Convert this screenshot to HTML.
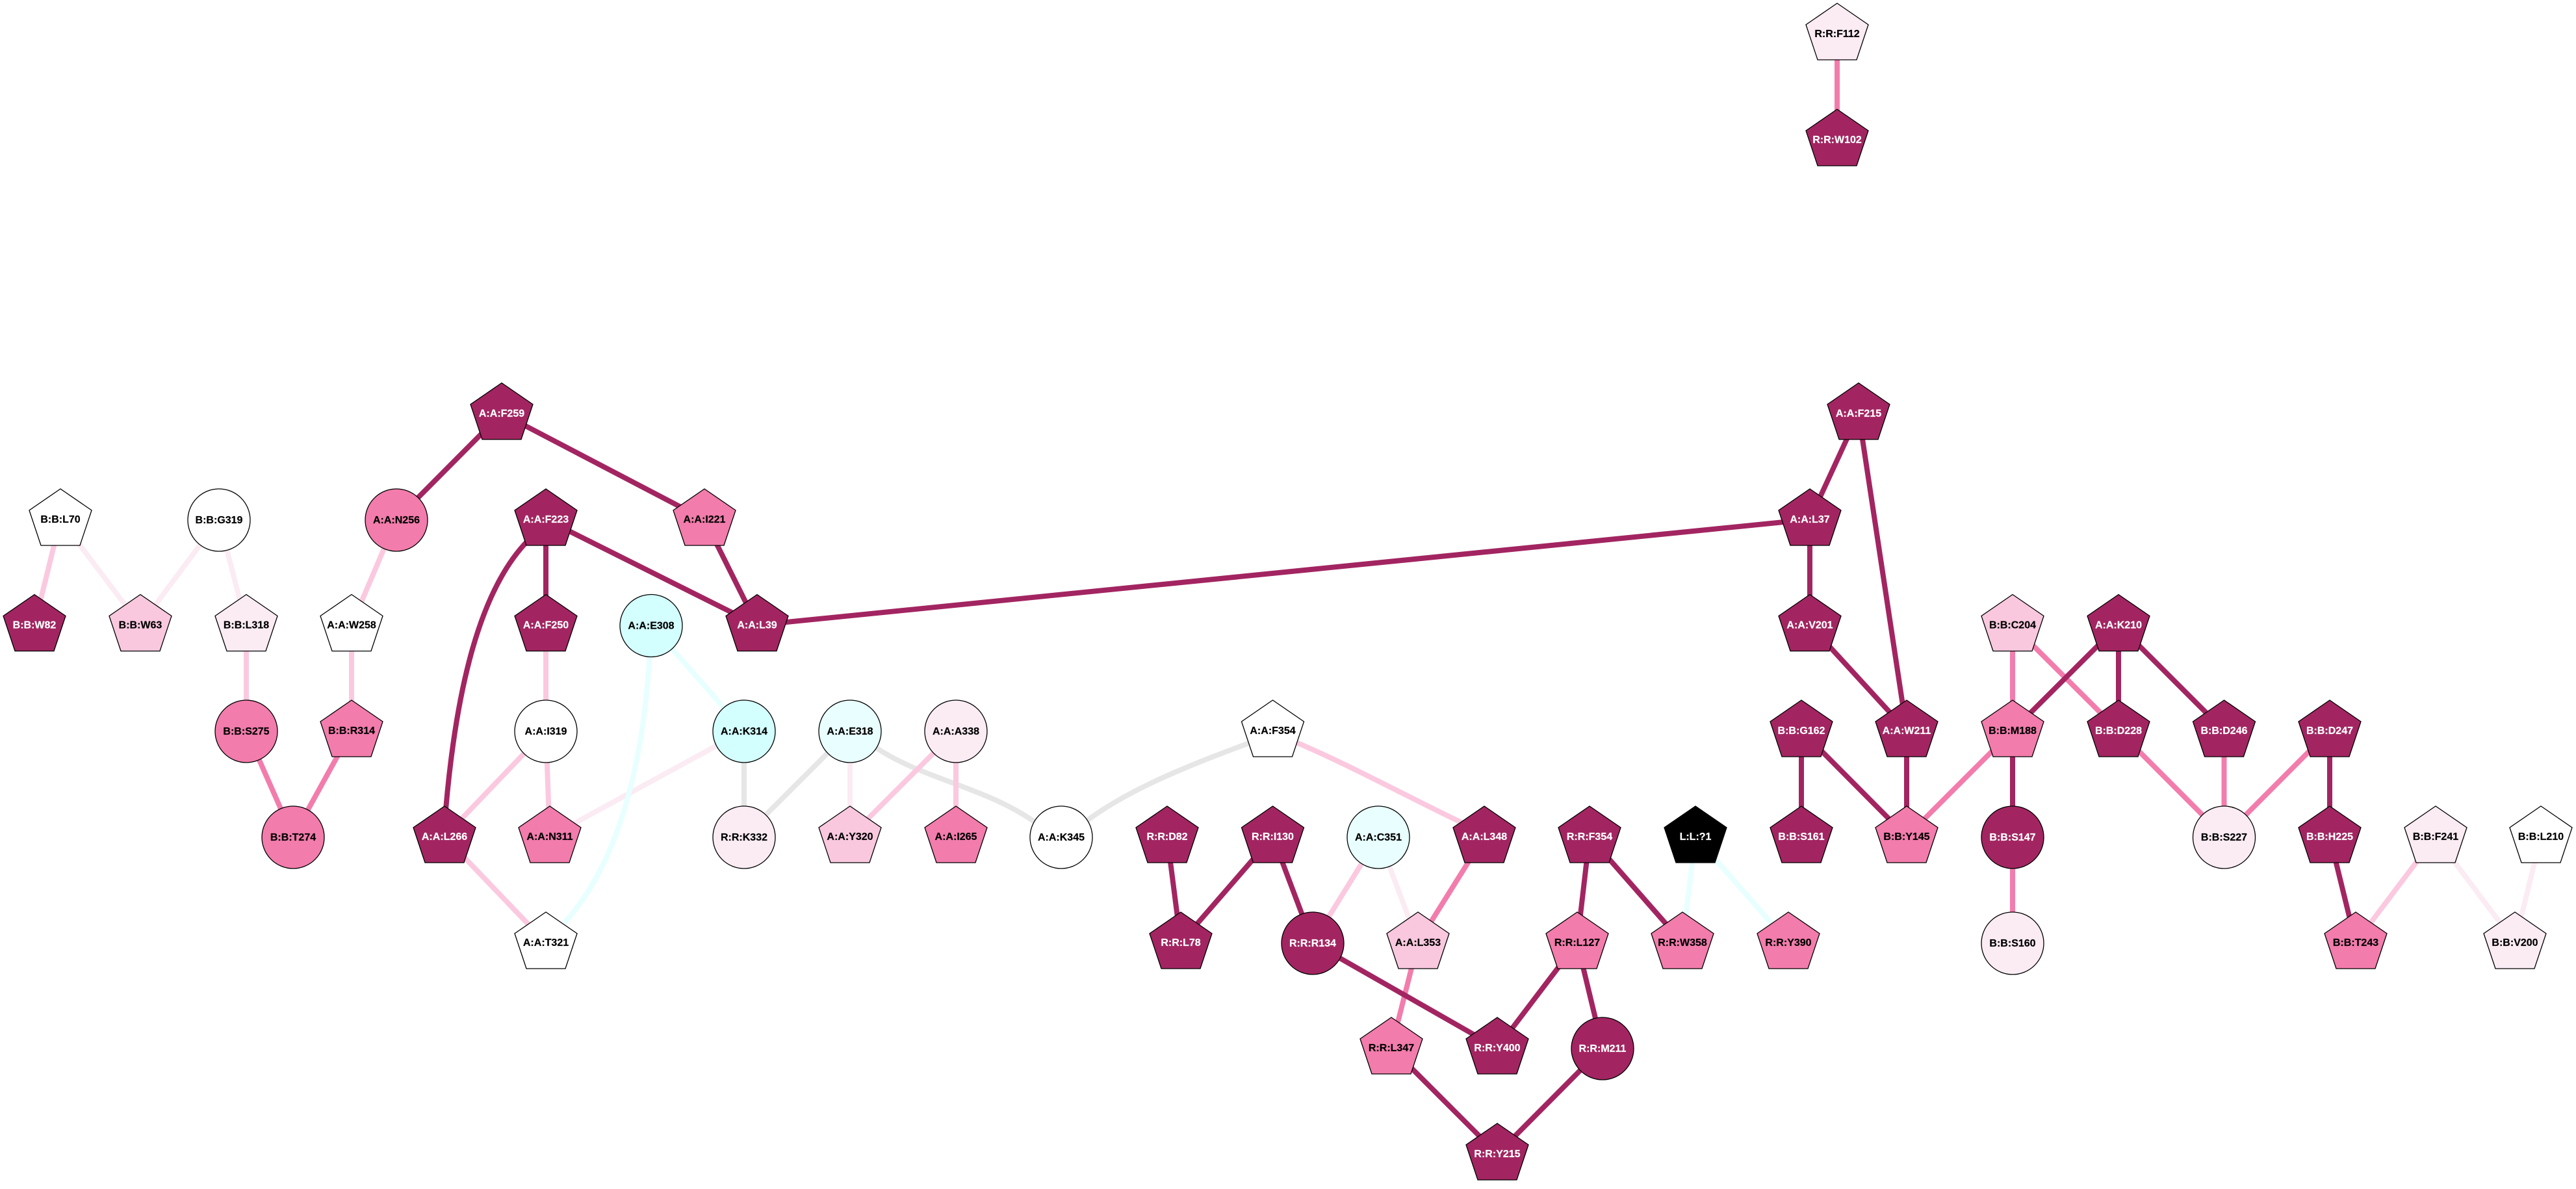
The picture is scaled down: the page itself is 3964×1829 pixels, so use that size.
<!DOCTYPE html>
<html lang="en">
<head>
<meta charset="utf-8">
<title>Residue network</title>
<style>
html,body{margin:0;padding:0;background:#fff;width:3964px;height:1829px;overflow:hidden}
svg{display:block}
.e{fill:none;stroke-width:8}
.dk{stroke:#a22561}.pk{stroke:#f27dac}.lp{stroke:#fbc9df}.pa{stroke:#fbebf3}.cy{stroke:#e8ffff}.gr{stroke:#e6e6e6}
.n{stroke:#000;stroke-width:1.3}
.d{fill:#a22561}.k{fill:#f27cac}.l{fill:#f9c8de}.p{fill:#fbecf4}.w{fill:#fff}.c{fill:#d4ffff}.v{fill:#e9ffff}.b{fill:#000}
text{font-family:"Liberation Sans",sans-serif;font-weight:bold;font-size:16px;text-anchor:middle;fill:#000;stroke:#000;stroke-width:.2}
text.t{fill:#fff;stroke:#fff}
</style>
</head>
<body>
<svg xmlns="http://www.w3.org/2000/svg" width="3964" height="1829" viewBox="0 0 3964 1829">
<rect width="3964" height="1829" fill="#fff"/>
<g>
<line class="e pa" x1="93" y1="799" x2="216" y2="961.5"/>
<line class="e pa" x1="337" y1="799" x2="216" y2="961.5"/>
<line class="e pa" x1="337" y1="799" x2="379" y2="961.5"/>
<line class="e pa" x1="1145" y1="1124" x2="846" y2="1287"/>
<line class="e pa" x1="1308" y1="1124" x2="1308" y2="1287"/>
<line class="e pa" x1="2121" y1="1287" x2="2182" y2="1450"/>
<line class="e pa" x1="3748" y1="1287" x2="3870" y2="1450"/>
<line class="e pa" x1="3910" y1="1287" x2="3870" y2="1450"/>
</g>
<g>
<line class="e cy" x1="1002" y1="961.5" x2="1145" y2="1124"/>
<path class="e cy" d="M1000 1003C990 1180 950 1330 868 1420"/>
<line class="e cy" x1="2609" y1="1287" x2="2589" y2="1450"/>
<line class="e cy" x1="2609" y1="1287" x2="2752" y2="1450"/>
</g>
<g>
<line class="e gr" x1="1145" y1="1124" x2="1145" y2="1287"/>
<line class="e gr" x1="1308" y1="1124" x2="1145" y2="1287"/>
<path class="e gr" d="M1345 1148C1420 1200 1520 1210 1600 1270"/>
<path class="e gr" d="M1668 1266C1740 1210 1850 1170 1930 1140"/>
</g>
<g>
<line class="e lp" x1="93" y1="799" x2="53" y2="961.5"/>
<line class="e lp" x1="610" y1="799" x2="541" y2="961.5"/>
<line class="e lp" x1="379" y1="961.5" x2="379" y2="1124"/>
<line class="e lp" x1="541" y1="961.5" x2="541" y2="1124"/>
<line class="e lp" x1="840" y1="961.5" x2="840" y2="1124"/>
<line class="e lp" x1="840" y1="1124" x2="684" y2="1287"/>
<line class="e lp" x1="840" y1="1124" x2="846" y2="1287"/>
<line class="e lp" x1="684" y1="1287" x2="840" y2="1450"/>
<line class="e lp" x1="1471" y1="1124" x2="1308" y2="1287"/>
<line class="e lp" x1="1471" y1="1124" x2="1471" y2="1287"/>
<line class="e lp" x1="2121" y1="1287" x2="2020" y2="1450"/>
<line class="e lp" x1="3748" y1="1287" x2="3625" y2="1450"/>
<path class="e lp" d="M1990 1140C2080 1178 2180 1233 2255 1268"/>
</g>
<g>
<line class="e pk" x1="2827" y1="52" x2="2827" y2="215"/>
<line class="e pk" x1="3097" y1="1124" x2="2934" y2="1287"/>
<line class="e pk" x1="3097" y1="961.5" x2="3097" y2="1124"/>
<line class="e pk" x1="3097" y1="961.5" x2="3260" y2="1124"/>
<line class="e pk" x1="3260" y1="1124" x2="3422.5" y2="1287"/>
<line class="e pk" x1="3422.5" y1="1124" x2="3422.5" y2="1287"/>
<line class="e pk" x1="3585" y1="1124" x2="3422.5" y2="1287"/>
<line class="e pk" x1="3097" y1="1287" x2="3097" y2="1450"/>
<line class="e pk" x1="379" y1="1124" x2="451" y2="1287"/>
<line class="e pk" x1="541" y1="1124" x2="451" y2="1287"/>
<line class="e pk" x1="2284" y1="1287" x2="2182" y2="1450"/>
<line class="e pk" x1="2182" y1="1450" x2="2141" y2="1612"/>
</g>
<g>
<line class="e dk" x1="772" y1="636" x2="610" y2="799"/>
<line class="e dk" x1="772" y1="636" x2="1084" y2="799"/>
<line class="e dk" x1="840" y1="799" x2="1165" y2="961.5"/>
<line class="e dk" x1="1084" y1="799" x2="1165" y2="961.5"/>
<line class="e dk" x1="1165" y1="961.5" x2="2785" y2="799"/>
<line class="e dk" x1="2860" y1="636" x2="2785" y2="799"/>
<line class="e dk" x1="2860" y1="636" x2="2934" y2="1124"/>
<line class="e dk" x1="2785" y1="799" x2="2785" y2="961.5"/>
<line class="e dk" x1="2785" y1="961.5" x2="2934" y2="1124"/>
<line class="e dk" x1="2934" y1="1124" x2="2934" y2="1287"/>
<line class="e dk" x1="2772" y1="1124" x2="2772" y2="1287"/>
<line class="e dk" x1="2772" y1="1124" x2="2934" y2="1287"/>
<line class="e dk" x1="3260" y1="961.5" x2="3097" y2="1124"/>
<line class="e dk" x1="3260" y1="961.5" x2="3260" y2="1124"/>
<line class="e dk" x1="3260" y1="961.5" x2="3422.5" y2="1124"/>
<line class="e dk" x1="3585" y1="1124" x2="3585" y2="1287"/>
<line class="e dk" x1="3585" y1="1287" x2="3625" y2="1450"/>
<line class="e dk" x1="3097" y1="1124" x2="3097" y2="1287"/>
<line class="e dk" x1="840" y1="799" x2="840" y2="961.5"/>
<path class="e dk" d="M812 832C738 908 702 1060 686 1245"/>
<line class="e dk" x1="1796" y1="1287" x2="1817" y2="1450"/>
<line class="e dk" x1="1958.5" y1="1287" x2="1817" y2="1450"/>
<line class="e dk" x1="1958.5" y1="1287" x2="2020" y2="1450"/>
<line class="e dk" x1="2020" y1="1450" x2="2304" y2="1612"/>
<line class="e dk" x1="2141" y1="1612" x2="2304" y2="1775"/>
<line class="e dk" x1="2466" y1="1612" x2="2304" y2="1775"/>
<line class="e dk" x1="2427" y1="1450" x2="2304" y2="1612"/>
<line class="e dk" x1="2427" y1="1450" x2="2466" y2="1612"/>
<line class="e dk" x1="2446" y1="1287" x2="2427" y2="1450"/>
<line class="e dk" x1="2446" y1="1287" x2="2589" y2="1450"/>
</g>
<g>
<polygon class="n p" transform="translate(2827,5)" points="0,0 48,33 30,87 -30,87 -48,33"/><text x="2827" y="57">R:R:F112</text>
<polygon class="n d" transform="translate(2827,168)" points="0,0 48,33 30,87 -30,87 -48,33"/><text class="t" x="2827" y="220">R:R:W102</text>
<polygon class="n d" transform="translate(772,589)" points="0,0 48,33 30,87 -30,87 -48,33"/><text class="t" x="772" y="641">A:A:F259</text>
<polygon class="n d" transform="translate(2860,589)" points="0,0 48,33 30,87 -30,87 -48,33"/><text class="t" x="2860" y="641">A:A:F215</text>
<polygon class="n w" transform="translate(93,752)" points="0,0 48,33 30,87 -30,87 -48,33"/><text x="93" y="804">B:B:L70</text>
<circle class="n w" cx="337" cy="800" r="48"/><text x="337" y="805">B:B:G319</text>
<circle class="n k" cx="610" cy="800" r="48"/><text x="610" y="805">A:A:N256</text>
<polygon class="n d" transform="translate(840,752)" points="0,0 48,33 30,87 -30,87 -48,33"/><text class="t" x="840" y="804">A:A:F223</text>
<polygon class="n k" transform="translate(1084,752)" points="0,0 48,33 30,87 -30,87 -48,33"/><text x="1084" y="804">A:A:I221</text>
<polygon class="n d" transform="translate(2785,752)" points="0,0 48,33 30,87 -30,87 -48,33"/><text class="t" x="2785" y="804">A:A:L37</text>
<polygon class="n d" transform="translate(53,914.5)" points="0,0 48,33 30,87 -30,87 -48,33"/><text class="t" x="53" y="966.5">B:B:W82</text>
<polygon class="n l" transform="translate(216,914.5)" points="0,0 48,33 30,87 -30,87 -48,33"/><text x="216" y="966.5">B:B:W63</text>
<polygon class="n p" transform="translate(379,914.5)" points="0,0 48,33 30,87 -30,87 -48,33"/><text x="379" y="966.5">B:B:L318</text>
<polygon class="n w" transform="translate(541,914.5)" points="0,0 48,33 30,87 -30,87 -48,33"/><text x="541" y="966.5">A:A:W258</text>
<polygon class="n d" transform="translate(840,914.5)" points="0,0 48,33 30,87 -30,87 -48,33"/><text class="t" x="840" y="966.5">A:A:F250</text>
<circle class="n c" cx="1002" cy="962.5" r="48"/><text x="1002" y="967.5">A:A:E308</text>
<polygon class="n d" transform="translate(1165,914.5)" points="0,0 48,33 30,87 -30,87 -48,33"/><text class="t" x="1165" y="966.5">A:A:L39</text>
<polygon class="n d" transform="translate(2785,914.5)" points="0,0 48,33 30,87 -30,87 -48,33"/><text class="t" x="2785" y="966.5">A:A:V201</text>
<polygon class="n l" transform="translate(3097,914.5)" points="0,0 48,33 30,87 -30,87 -48,33"/><text x="3097" y="966.5">B:B:C204</text>
<polygon class="n d" transform="translate(3260,914.5)" points="0,0 48,33 30,87 -30,87 -48,33"/><text class="t" x="3260" y="966.5">A:A:K210</text>
<circle class="n k" cx="379" cy="1125" r="48"/><text x="379" y="1130">B:B:S275</text>
<polygon class="n k" transform="translate(541,1077)" points="0,0 48,33 30,87 -30,87 -48,33"/><text x="541" y="1129">B:B:R314</text>
<circle class="n w" cx="840" cy="1125" r="48"/><text x="840" y="1130">A:A:I319</text>
<circle class="n c" cx="1145" cy="1125" r="48"/><text x="1145" y="1130">A:A:K314</text>
<circle class="n v" cx="1308" cy="1125" r="48"/><text x="1308" y="1130">A:A:E318</text>
<circle class="n p" cx="1471" cy="1125" r="48"/><text x="1471" y="1130">A:A:A338</text>
<polygon class="n w" transform="translate(1958.5,1077)" points="0,0 48,33 30,87 -30,87 -48,33"/><text x="1958.5" y="1129">A:A:F354</text>
<polygon class="n d" transform="translate(2772,1077)" points="0,0 48,33 30,87 -30,87 -48,33"/><text class="t" x="2772" y="1129">B:B:G162</text>
<polygon class="n d" transform="translate(2934,1077)" points="0,0 48,33 30,87 -30,87 -48,33"/><text class="t" x="2934" y="1129">A:A:W211</text>
<polygon class="n k" transform="translate(3097,1077)" points="0,0 48,33 30,87 -30,87 -48,33"/><text x="3097" y="1129">B:B:M188</text>
<polygon class="n d" transform="translate(3260,1077)" points="0,0 48,33 30,87 -30,87 -48,33"/><text class="t" x="3260" y="1129">B:B:D228</text>
<polygon class="n d" transform="translate(3422.5,1077)" points="0,0 48,33 30,87 -30,87 -48,33"/><text class="t" x="3422.5" y="1129">B:B:D246</text>
<polygon class="n d" transform="translate(3585,1077)" points="0,0 48,33 30,87 -30,87 -48,33"/><text class="t" x="3585" y="1129">B:B:D247</text>
<circle class="n k" cx="451" cy="1288" r="48"/><text x="451" y="1293">B:B:T274</text>
<polygon class="n d" transform="translate(684,1240)" points="0,0 48,33 30,87 -30,87 -48,33"/><text class="t" x="684" y="1292">A:A:L266</text>
<polygon class="n k" transform="translate(846,1240)" points="0,0 48,33 30,87 -30,87 -48,33"/><text x="846" y="1292">A:A:N311</text>
<circle class="n p" cx="1145" cy="1288" r="48"/><text x="1145" y="1293">R:R:K332</text>
<polygon class="n l" transform="translate(1308,1240)" points="0,0 48,33 30,87 -30,87 -48,33"/><text x="1308" y="1292">A:A:Y320</text>
<polygon class="n k" transform="translate(1471,1240)" points="0,0 48,33 30,87 -30,87 -48,33"/><text x="1471" y="1292">A:A:I265</text>
<circle class="n w" cx="1633" cy="1288" r="48"/><text x="1633" y="1293">A:A:K345</text>
<polygon class="n d" transform="translate(1796,1240)" points="0,0 48,33 30,87 -30,87 -48,33"/><text class="t" x="1796" y="1292">R:R:D82</text>
<polygon class="n d" transform="translate(1958.5,1240)" points="0,0 48,33 30,87 -30,87 -48,33"/><text class="t" x="1958.5" y="1292">R:R:I130</text>
<circle class="n v" cx="2121" cy="1288" r="48"/><text x="2121" y="1293">A:A:C351</text>
<polygon class="n d" transform="translate(2284,1240)" points="0,0 48,33 30,87 -30,87 -48,33"/><text class="t" x="2284" y="1292">A:A:L348</text>
<polygon class="n d" transform="translate(2446,1240)" points="0,0 48,33 30,87 -30,87 -48,33"/><text class="t" x="2446" y="1292">R:R:F354</text>
<polygon class="n b" transform="translate(2609,1240)" points="0,0 48,33 30,87 -30,87 -48,33"/><text class="t" x="2609" y="1292">L:L:?1</text>
<polygon class="n d" transform="translate(2772,1240)" points="0,0 48,33 30,87 -30,87 -48,33"/><text class="t" x="2772" y="1292">B:B:S161</text>
<polygon class="n k" transform="translate(2934,1240)" points="0,0 48,33 30,87 -30,87 -48,33"/><text x="2934" y="1292">B:B:Y145</text>
<circle class="n d" cx="3097" cy="1288" r="48"/><text class="t" x="3097" y="1293">B:B:S147</text>
<circle class="n p" cx="3422.5" cy="1288" r="48"/><text x="3422.5" y="1293">B:B:S227</text>
<polygon class="n d" transform="translate(3585,1240)" points="0,0 48,33 30,87 -30,87 -48,33"/><text class="t" x="3585" y="1292">B:B:H225</text>
<polygon class="n p" transform="translate(3748,1240)" points="0,0 48,33 30,87 -30,87 -48,33"/><text x="3748" y="1292">B:B:F241</text>
<polygon class="n w" transform="translate(3910,1240)" points="0,0 48,33 30,87 -30,87 -48,33"/><text x="3910" y="1292">B:B:L210</text>
<polygon class="n w" transform="translate(840,1403)" points="0,0 48,33 30,87 -30,87 -48,33"/><text x="840" y="1455">A:A:T321</text>
<polygon class="n d" transform="translate(1817,1403)" points="0,0 48,33 30,87 -30,87 -48,33"/><text class="t" x="1817" y="1455">R:R:L78</text>
<circle class="n d" cx="2020" cy="1451" r="48"/><text class="t" x="2020" y="1456">R:R:R134</text>
<polygon class="n l" transform="translate(2182,1403)" points="0,0 48,33 30,87 -30,87 -48,33"/><text x="2182" y="1455">A:A:L353</text>
<polygon class="n k" transform="translate(2427,1403)" points="0,0 48,33 30,87 -30,87 -48,33"/><text x="2427" y="1455">R:R:L127</text>
<polygon class="n k" transform="translate(2589,1403)" points="0,0 48,33 30,87 -30,87 -48,33"/><text x="2589" y="1455">R:R:W358</text>
<polygon class="n k" transform="translate(2752,1403)" points="0,0 48,33 30,87 -30,87 -48,33"/><text x="2752" y="1455">R:R:Y390</text>
<circle class="n p" cx="3097" cy="1451" r="48"/><text x="3097" y="1456">B:B:S160</text>
<polygon class="n k" transform="translate(3625,1403)" points="0,0 48,33 30,87 -30,87 -48,33"/><text x="3625" y="1455">B:B:T243</text>
<polygon class="n p" transform="translate(3870,1403)" points="0,0 48,33 30,87 -30,87 -48,33"/><text x="3870" y="1455">B:B:V200</text>
<polygon class="n k" transform="translate(2141,1565)" points="0,0 48,33 30,87 -30,87 -48,33"/><text x="2141" y="1617">R:R:L347</text>
<polygon class="n d" transform="translate(2304,1565)" points="0,0 48,33 30,87 -30,87 -48,33"/><text class="t" x="2304" y="1617">R:R:Y400</text>
<circle class="n d" cx="2466" cy="1613" r="48"/><text class="t" x="2466" y="1618">R:R:M211</text>
<polygon class="n d" transform="translate(2304,1728)" points="0,0 48,33 30,87 -30,87 -48,33"/><text class="t" x="2304" y="1780">R:R:Y215</text>
</g>
</svg>
</body>
</html>
